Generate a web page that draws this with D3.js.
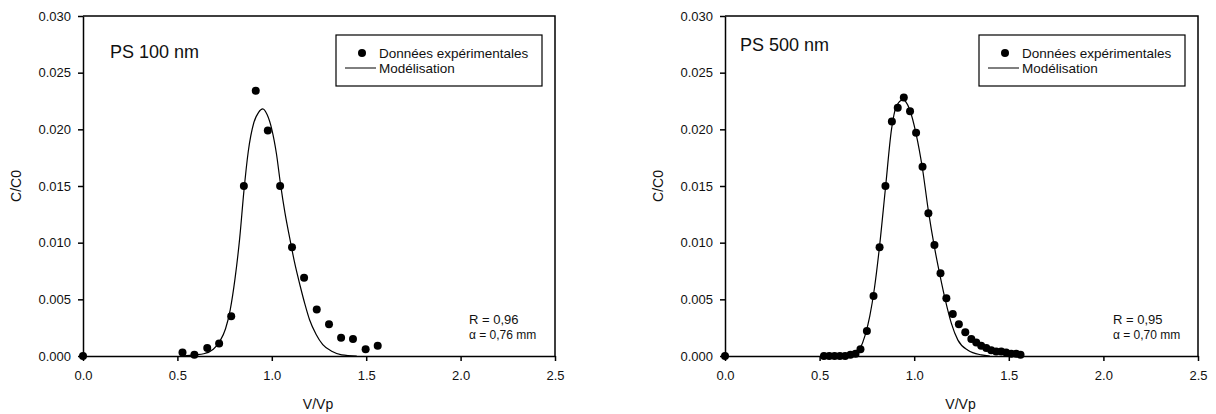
<!DOCTYPE html>
<html>
<head>
<meta charset="utf-8">
<script src="https://cdn.jsdelivr.net/npm/d3@7"></script>
<style>
  body { margin: 0; background: #fff; }
  svg { display: block; font-family: "Liberation Sans", Arial, sans-serif; }
  .axis path, .axis line { stroke: #000; stroke-width: 1.5; }
  .axis text { font-size: 13px; fill: #111; }
</style>
</head>
<body>
<svg class="chart" width="1216" height="414"></svg>
<script>
// --- data ---
var xTicks = [0, 0.5, 1.0, 1.5, 2.0, 2.5]
var yTicks = [0, 0.005, 0.010, 0.015, 0.020, 0.025, 0.030]

// PS 100 nm : experimental points
var exp100 = [
  [0, 0], [0.527, 0.0003], [0.590, 0.0001], [0.658, 0.0007], [0.721, 0.0011],
  [0.785, 0.0035], [0.852, 0.0150], [0.915, 0.0234], [0.979, 0.0199],
  [1.044, 0.0150], [1.107, 0.0096], [1.171, 0.0069], [1.238, 0.0041],
  [1.303, 0.0028], [1.367, 0.0016], [1.430, 0.0015], [1.497, 0.0006],
  [1.561, 0.0009]
]
// PS 100 nm : model curve (traced)
var model100 = [
  [0.53, 0.0000], [0.59, 0.0001], [0.64, 0.0002], [0.69, 0.0006], [0.725, 0.0013],
  [0.755, 0.0024], [0.78, 0.0041], [0.805, 0.0068], [0.83, 0.0104], [0.852, 0.0145],
  [0.875, 0.0180], [0.905, 0.0206], [0.93, 0.0215], [0.952, 0.0218], [0.975, 0.0213],
  [1.0, 0.0200], [1.025, 0.0178], [1.045, 0.0153], [1.07, 0.0126], [1.095, 0.0104],
  [1.12, 0.0083], [1.15, 0.0062], [1.175, 0.0046], [1.2, 0.0032], [1.235, 0.0019],
  [1.27, 0.0010], [1.32, 0.0004], [1.37, 0.0001], [1.45, 0.0000]
]

// PS 500 nm : experimental points
var exp500 = [
  [0, 0], [0.523, 0], [0.551, 0], [0.579, 0], [0.607, 0], [0.635, 0],
  [0.663, 0.0001], [0.690, 0.0002], [0.716, 0.0006], [0.750, 0.0022],
  [0.785, 0.0053], [0.817, 0.0096], [0.848, 0.0150], [0.882, 0.0207],
  [0.913, 0.0219], [0.945, 0.0228], [0.978, 0.0216], [1.010, 0.0197],
  [1.044, 0.0167], [1.075, 0.0126], [1.107, 0.0098], [1.139, 0.0073],
  [1.170, 0.0051], [1.204, 0.0037], [1.236, 0.0028], [1.270, 0.0021],
  [1.302, 0.0015], [1.328, 0.0012], [1.354, 0.0009], [1.381, 0.0007],
  [1.407, 0.0005], [1.433, 0.0004], [1.460, 0.0004], [1.486, 0.0003],
  [1.513, 0.0002], [1.539, 0.0002], [1.562, 0.0001]
]
// PS 500 nm : model curve (traced)
var model500 = [
  [0.66, 0.0000], [0.69, 0.0002], [0.715, 0.0007], [0.74, 0.0018], [0.765, 0.0035],
  [0.79, 0.0060], [0.815, 0.0094], [0.848, 0.0148], [0.88, 0.0200], [0.905, 0.0220],
  [0.94, 0.0226], [0.975, 0.0218], [1.01, 0.0196], [1.044, 0.0165], [1.075, 0.0128],
  [1.107, 0.0096], [1.139, 0.0069], [1.165, 0.0049], [1.196, 0.0029], [1.231, 0.0014],
  [1.284, 0.0005], [1.354, 0.0001], [1.40, 0.0000]
]

var panels = [
  {left: 83, right: 555, title: "PS 100 nm", tx: 110, ty: 58, exp: exp100, model: model100,
   legendX: 336, r: "R = 0,96", alpha: "α = 0,76 mm", ax: 469},
  {left: 725, right: 1198, title: "PS 500 nm", tx: 740, ty: 51, exp: exp500, model: model500,
   legendX: 979, r: "R = 0,95", alpha: "α = 0,70 mm", ax: 1113}
]

var svg = d3.select("svg.chart")
var plotTop = 16, plotBottom = 356

panels.forEach(drawPanel)

function drawPanel(p) {
  var x = d3.scaleLinear().domain([0, 2.5]).range([p.left, p.right])
  var y = d3.scaleLinear().domain([0, 0.03]).range([plotBottom, plotTop])
  var g = svg.append("g")

  // frame top / right
  g.append("path")
    .attr("d", "M" + p.left + "," + plotTop + "H" + p.right + "V" + plotBottom)
    .attr("fill", "none").attr("stroke", "#000").attr("stroke-width", 1.5)

  g.append("g").attr("class", "axis")
    .attr("transform", "translate(0," + plotBottom + ")")
    .call(d3.axisBottom(x).tickValues(xTicks).tickFormat(d3.format(".1f"))
      .tickSize(5).tickSizeOuter(0).tickPadding(10))

  g.append("g").attr("class", "axis")
    .attr("transform", "translate(" + p.left + ",0)")
    .call(d3.axisLeft(y).tickValues(yTicks).tickFormat(d3.format(".3f"))
      .tickSize(5).tickSizeOuter(0).tickPadding(7))

  // axis titles
  g.append("text")
    .attr("x", (p.left + p.right) / 2 - 1).attr("y", 409)
    .attr("text-anchor", "middle").attr("font-size", 14).attr("fill", "#111")
    .text("V/Vp")
  g.append("text")
    .attr("transform", "translate(" + (p.left - 62) + "," + ((plotTop + plotBottom) / 2) + ") rotate(-90)")
    .attr("text-anchor", "middle").attr("font-size", 14).attr("fill", "#111")
    .text("C/C0")

  // model line
  var line = d3.line()
    .x(function(d) { return x(d[0]) })
    .y(function(d) { return y(d[1]) })
    .curve(d3.curveMonotoneX)
  g.append("path").datum(p.model)
    .attr("d", line)
    .attr("fill", "none").attr("stroke", "#000").attr("stroke-width", 1.2)

  // points
  g.selectAll("circle.pt").data(p.exp).enter()
    .append("circle").attr("class", "pt")
    .attr("cx", function(d) { return x(d[0]) })
    .attr("cy", function(d) { return y(d[1]) })
    .attr("r", 4).attr("fill", "#000")

  // title
  g.append("text").attr("x", p.tx).attr("y", p.ty)
    .attr("font-size", 18).attr("fill", "#111").text(p.title)

  // legend
  var lg = g.append("g").attr("transform", "translate(" + p.legendX + ",35)")
  lg.append("rect").attr("width", 206).attr("height", 51)
    .attr("fill", "#fff").attr("stroke", "#000").attr("stroke-width", 1.2)
  lg.append("circle").attr("cx", 26).attr("cy", 18).attr("r", 4).attr("fill", "#000")
  lg.append("line").attr("x1", 9).attr("x2", 40).attr("y1", 33).attr("y2", 33)
    .attr("stroke", "#000").attr("stroke-width", 1)
  lg.append("text").attr("x", 43).attr("y", 22.5).attr("font-size", 13.5).attr("fill", "#111")
    .text("Données expérimentales")
  lg.append("text").attr("x", 43).attr("y", 38).attr("font-size", 13.5).attr("fill", "#111")
    .text("Modélisation")

  // fit annotations
  g.append("text").attr("x", p.ax).attr("y", 324)
    .attr("font-size", 13).attr("fill", "#111").text(p.r)
  g.append("text").attr("x", p.ax).attr("y", 339)
    .attr("font-size", 12).attr("fill", "#111").text(p.alpha)
}
</script>
</body>
</html>
